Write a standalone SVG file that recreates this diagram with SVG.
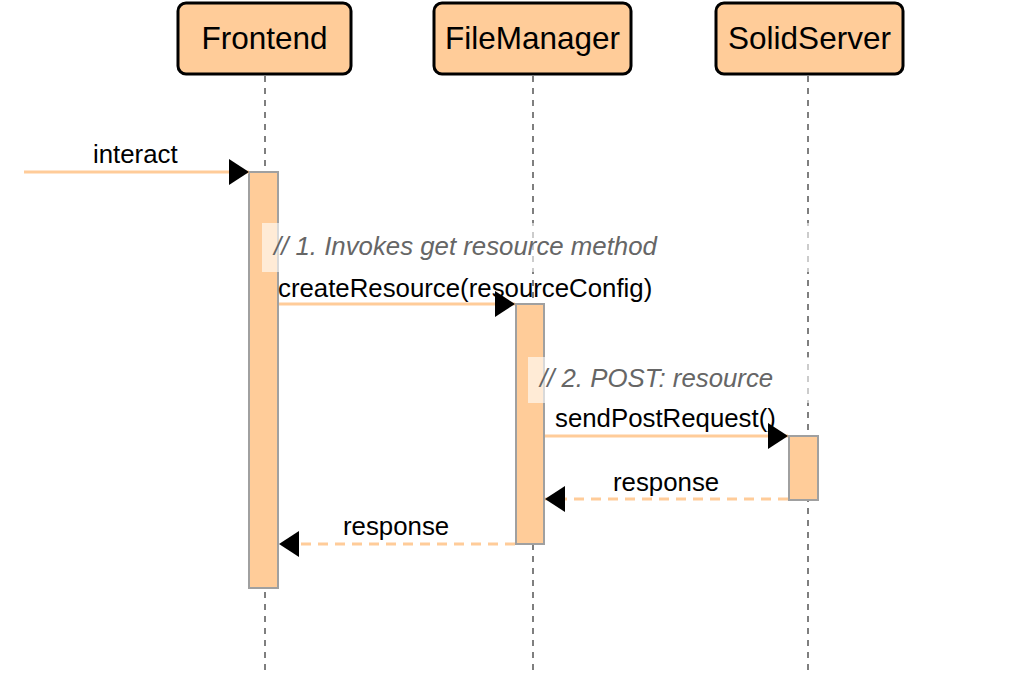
<svg xmlns="http://www.w3.org/2000/svg" width="1015" height="675" viewBox="0 0 1015 675">
<style>
.box{fill:#FFCC99;stroke:#000;stroke-width:3}
.title{font-family:"Liberation Sans",Arial,sans-serif;font-size:31.5px;fill:#000;text-anchor:middle}
.life{stroke:#7f7f7f;stroke-width:2;stroke-dasharray:6,6;fill:none}
.act{fill:#FFCC99;stroke:#a0a0a0;stroke-width:2}
.note{fill:#fff;fill-opacity:0.6}
.msg{stroke:#FFCC99;stroke-width:3;fill:none}
.ret{stroke:#FFCC99;stroke-width:3;fill:none;stroke-dasharray:10,7}
.lbl{font-family:"Liberation Sans",Arial,sans-serif;font-size:25.8px;fill:#000}
.cmt{font-family:"Liberation Sans",Arial,sans-serif;font-size:25.8px;fill:#666;font-style:italic}
</style>
<defs>
<marker id="ah" viewBox="0 0 20 26" refX="20" refY="13" markerWidth="20" markerHeight="26" markerUnits="userSpaceOnUse" orient="auto">
<path d="M0,0 L20,13 L0,26 Z" fill="#000"/>
</marker>
</defs>
<g id="lifelines">
<line class="life" x1="265" y1="76" x2="265" y2="670"/>
<line class="life" x1="533" y1="76" x2="533" y2="670"/>
<line class="life" x1="808" y1="76" x2="808" y2="670"/>
</g>
<g id="Frontend">
<rect class="box" x="178" y="3" width="173" height="71" rx="8"/>
<text class="title" x="264.5" y="49">Frontend</text>
</g>
<g id="FileManager">
<rect class="box" x="434" y="3" width="197" height="71" rx="8"/>
<text class="title" x="532.5" y="49">FileManager</text>
</g>
<g id="SolidServer">
<rect class="box" x="716" y="3" width="187" height="71" rx="8"/>
<text class="title" x="809.5" y="49">SolidServer</text>
</g>
<g id="activations">
<rect class="act" x="249" y="172" width="29" height="416"/>
<rect class="act" x="516" y="304" width="28" height="240"/>
<rect class="act" x="789" y="436" width="29" height="64"/>
</g>
<g id="notes">
<rect class="note" x="262" y="223" width="753" height="49"/>
<text class="cmt" x="274" y="255">// 1. Invokes get resource method</text>
<rect class="note" x="528" y="357" width="487" height="46"/>
<text class="cmt" x="540" y="387">// 2. POST: resource</text>
</g>
<g id="connectors">
<line class="msg" x1="24" y1="172" x2="249" y2="172" marker-end="url(#ah)"/>
<text class="lbl" x="93" y="163">interact</text>
<line class="msg" x1="279" y1="304" x2="515" y2="304" marker-end="url(#ah)"/>
<text class="lbl" x="278" y="297">createResource(resourceConfig)</text>
<line class="msg" x1="545" y1="436" x2="788" y2="436" marker-end="url(#ah)"/>
<text class="lbl" x="555" y="427">sendPostRequest()</text>
<line class="ret" x1="788" y1="499" x2="545" y2="499" marker-end="url(#ah)"/>
<text class="lbl" x="613" y="491">response</text>
<line class="ret" x1="515" y1="544" x2="279" y2="544" marker-end="url(#ah)"/>
<text class="lbl" x="343" y="535">response</text>
</g>
</svg>
